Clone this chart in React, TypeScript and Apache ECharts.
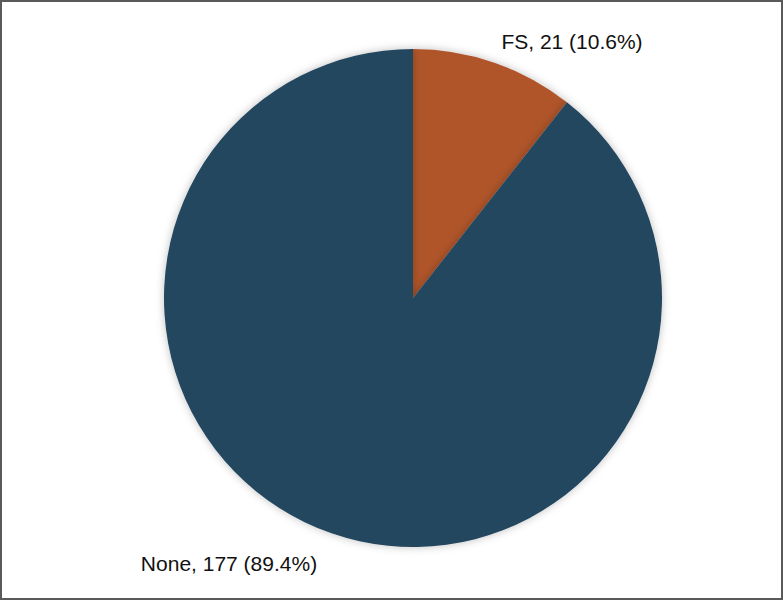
import React, { useEffect, useRef } from "react";
import * as echarts from "echarts";

const categories = ["FS", "None"];
const counts = [21, 177];
const percents = ["10.6%", "89.4%"];
const colors = ["#B0542A", "#23465E"];

export default function App() {
  const ref = useRef<HTMLDivElement>(null);
  useEffect(() => {
    if (!ref.current) return;
    const chart = echarts.init(ref.current, undefined, { renderer: "svg" });
    const labelPos = [
      { x: 572, y: 41 },
      { x: 229, y: 563 },
    ];
    chart.setOption({
      animation: false,
      backgroundColor: "#ffffff",
      graphic: [
        {
          type: "rect",
          shape: { x: 1, y: 1, width: 781, height: 598 },
          style: { fill: "none", stroke: "#5a5a5a", lineWidth: 2 },
          z: 100,
        },
      ],
      series: [
        {
          type: "pie",
          center: [413, 298],
          radius: 249,
          startAngle: 90,
          clockwise: true,
          data: categories.map((c, i) => ({
            name: c,
            value: counts[i],
            itemStyle: { color: colors[i] },
          })),
          itemStyle: {
            shadowBlur: 8,
            shadowColor: "rgba(0,0,0,0.25)",
          },
          label: {
            show: true,
            position: "outside",
            formatter: (p: any) =>
              `${p.name}, ${p.value} (${percents[p.dataIndex]})`,
            fontFamily: "Liberation Sans, Arial, sans-serif",
            fontSize: 21,
            color: "#111111",
          },
          labelLine: { show: false },
          labelLayout: (params: any) => ({
            x: labelPos[params.dataIndex].x,
            y: labelPos[params.dataIndex].y,
            align: "center",
            verticalAlign: "middle",
          }),
          emphasis: { disabled: true },
        },
      ],
    });
    return () => chart.dispose();
  }, []);
  return (
    <div
      ref={ref}
      style={{ position: "fixed", left: 0, top: 0, width: 783, height: 600 }}
    />
  );
}
